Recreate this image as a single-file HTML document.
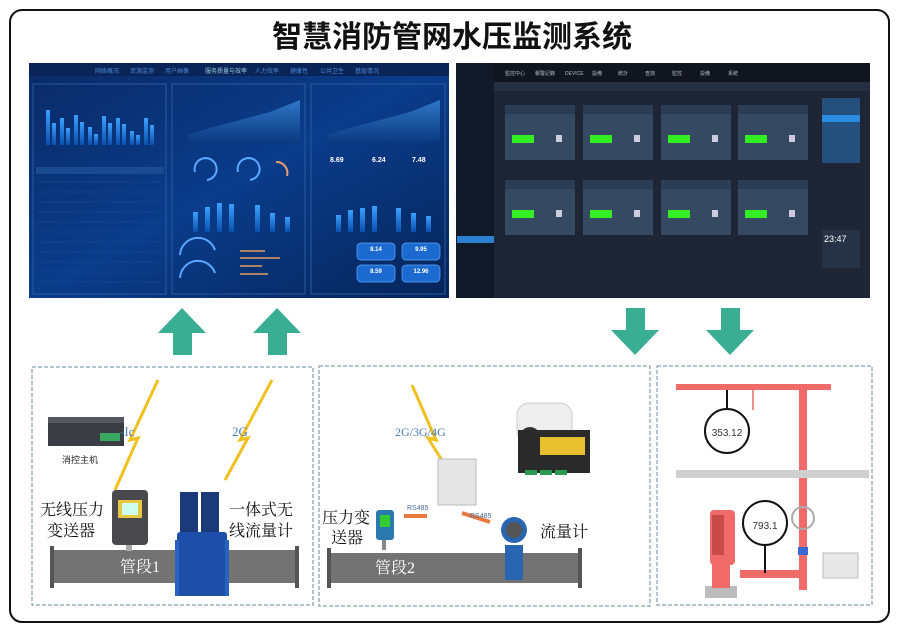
<!DOCTYPE html>
<html><head><meta charset="utf-8"><style>
html,body{margin:0;padding:0;background:#fff;}
svg{display:block;font-family:"Liberation Sans","Noto Sans CJK SC",sans-serif;}
</style></head><body>
<svg width="900" height="639" viewBox="0 0 900 639" xmlns="http://www.w3.org/2000/svg">
<defs>
<linearGradient id="bg1" x1="0" y1="0" x2="1" y2="1"><stop offset="0" stop-color="#0b2a66"/><stop offset="0.5" stop-color="#0a3c8a"/><stop offset="1" stop-color="#062458"/></linearGradient>
<linearGradient id="bar" x1="0" y1="0" x2="0" y2="1"><stop offset="0" stop-color="#3aa0ff"/><stop offset="1" stop-color="#0a4fae"/></linearGradient>
<linearGradient id="area" x1="0" y1="0" x2="0" y2="1"><stop offset="0" stop-color="#2f77c8"/><stop offset="1" stop-color="#0c3a80"/></linearGradient>
</defs>
<rect x="10" y="10" width="879" height="612" rx="12" fill="#fff" stroke="#111" stroke-width="2"/>
<text x="452" y="47" text-anchor="middle" font-size="30" font-weight="bold" fill="#111">智慧消防管网水压监测系统</text>

<!-- left dashboard -->
<rect x="29" y="63" width="420" height="235" fill="url(#bg1)"/>
<rect x="29" y="63" width="420" height="13" fill="#0a2458"/>
<g fill="#4a86d0" font-size="6"><text x="95" y="73">网络概况</text><text x="130" y="73">资源监测</text><text x="165" y="73">用户画像</text><text x="205" y="73" fill="#9cd">服务质量与效率</text><text x="255" y="73">人力效率</text><text x="290" y="73">健康性</text><text x="320" y="73">公共卫生</text><text x="355" y="73">基层情况</text></g>
<rect x="33" y="84" width="133" height="210" fill="none" stroke="#2a5aa0"/>
<rect x="172" y="84" width="133" height="210" fill="none" stroke="#2a5aa0"/>
<rect x="311" y="84" width="134" height="210" fill="none" stroke="#2a5aa0"/>
<g fill="url(#bar)">
<rect x="46" y="110" width="4" height="35"/><rect x="52" y="123" width="4" height="22"/>
<rect x="60" y="118" width="4" height="27"/><rect x="66" y="128" width="4" height="17"/>
<rect x="74" y="115" width="4" height="30"/><rect x="80" y="122" width="4" height="23"/>
<rect x="88" y="127" width="4" height="18"/><rect x="94" y="134" width="4" height="11"/>
<rect x="102" y="116" width="4" height="29"/><rect x="108" y="123" width="4" height="22"/>
<rect x="116" y="118" width="4" height="27"/><rect x="122" y="124" width="4" height="21"/>
<rect x="130" y="131" width="4" height="14"/><rect x="136" y="135" width="4" height="10"/>
<rect x="144" y="118" width="4" height="27"/><rect x="150" y="125" width="4" height="20"/>
</g>
<rect x="36" y="167" width="128" height="7" fill="#1a4a90"/>
<g stroke="#1f4d8e" stroke-width="0.6">
<line x1="36" y1="182" x2="164" y2="182"/><line x1="36" y1="192" x2="164" y2="192"/><line x1="36" y1="202" x2="164" y2="202"/><line x1="36" y1="212" x2="164" y2="212"/><line x1="36" y1="222" x2="164" y2="222"/><line x1="36" y1="232" x2="164" y2="232"/><line x1="36" y1="242" x2="164" y2="242"/><line x1="36" y1="252" x2="164" y2="252"/><line x1="36" y1="262" x2="164" y2="262"/><line x1="36" y1="272" x2="164" y2="272"/><line x1="36" y1="282" x2="164" y2="282"/></g>
<path d="M188 135 L210 128 L240 120 L270 112 L300 100 L300 142 L188 142Z" fill="url(#area)"/>
<path d="M327 135 L350 128 L380 120 L410 112 L440 100 L440 142 L327 142Z" fill="url(#area)"/>
<g fill="none" stroke="#5aa8ff" stroke-width="2">
<path d="M195 172 A11 11 0 1 1 207 180"/><path d="M238 172 A11 11 0 1 1 250 180"/><path d="M276 162 A11 11 0 0 1 287 176" stroke="#e8a070"/>
<path d="M180 255 A18 18 0 0 1 215 250"/><path d="M180 278 A18 18 0 0 1 215 273"/></g>
<g fill="url(#bar)"><rect x="193" y="212" width="5" height="20"/><rect x="205" y="207" width="5" height="25"/><rect x="217" y="203" width="5" height="29"/><rect x="229" y="204" width="5" height="28"/>
<rect x="255" y="205" width="5" height="27"/><rect x="270" y="213" width="5" height="19"/><rect x="285" y="217" width="5" height="15"/>
<rect x="336" y="215" width="5" height="17"/><rect x="348" y="210" width="5" height="22"/><rect x="360" y="208" width="5" height="24"/><rect x="372" y="206" width="5" height="26"/>
<rect x="396" y="208" width="5" height="24"/><rect x="411" y="213" width="5" height="19"/><rect x="426" y="216" width="5" height="16"/></g>
<g stroke="#e0a060" stroke-width="1.5"><line x1="240" y1="251" x2="265" y2="251"/><line x1="240" y1="258" x2="280" y2="258"/><line x1="240" y1="266" x2="262" y2="266"/><line x1="240" y1="274" x2="268" y2="274"/></g>
<g fill="#fff" font-size="7" font-weight="bold"><text x="330" y="162">8.69</text><text x="372" y="162">6.24</text><text x="412" y="162">7.48</text></g>
<g fill="#1c6ad0" stroke="#5aa8ff" stroke-width="0.7"><rect x="357" y="243" width="38" height="17" rx="4"/><rect x="402" y="243" width="38" height="17" rx="4"/><rect x="357" y="265" width="38" height="17" rx="4"/><rect x="402" y="265" width="38" height="17" rx="4"/></g>
<g fill="#fff" font-size="6" font-weight="bold" text-anchor="middle"><text x="376" y="251">8.14</text><text x="421" y="251">9.95</text><text x="376" y="273">8.59</text><text x="421" y="273">12.96</text></g>

<!-- right screenshot -->
<rect x="456" y="63" width="414" height="235" fill="#1e2636"/>
<rect x="456" y="63" width="38" height="235" fill="#111827"/>
<rect x="494" y="63" width="376" height="19" fill="#10151f"/>
<rect x="494" y="82" width="376" height="9" fill="#252f42"/>
<rect x="457" y="236" width="37" height="7" fill="#2a7fd0"/>
<g fill="#b0b8c8" font-size="5"><text x="505" y="75">監控中心</text><text x="535" y="75">報警記錄</text><text x="565" y="75">DEVICE</text><text x="592" y="75">設備</text><text x="618" y="75">統計</text><text x="645" y="75">查詢</text><text x="672" y="75">監控</text><text x="700" y="75">設備</text><text x="728" y="75">系統</text></g>
<g fill="#354a62">
<rect x="505" y="105" width="70" height="55"/><rect x="583" y="105" width="70" height="55"/><rect x="661" y="105" width="70" height="55"/><rect x="738" y="105" width="70" height="55"/>
<rect x="505" y="180" width="70" height="55"/><rect x="583" y="180" width="70" height="55"/><rect x="661" y="180" width="70" height="55"/><rect x="738" y="180" width="70" height="55"/></g>
<g fill="#2b3d54"><rect x="505" y="105" width="70" height="9"/><rect x="583" y="105" width="70" height="9"/><rect x="661" y="105" width="70" height="9"/><rect x="738" y="105" width="70" height="9"/>
<rect x="505" y="180" width="70" height="9"/><rect x="583" y="180" width="70" height="9"/><rect x="661" y="180" width="70" height="9"/><rect x="738" y="180" width="70" height="9"/></g>
<g fill="#33ee22"><rect x="512" y="135" width="22" height="8"/><rect x="590" y="135" width="22" height="8"/><rect x="668" y="135" width="22" height="8"/><rect x="745" y="135" width="22" height="8"/>
<rect x="512" y="210" width="22" height="8"/><rect x="590" y="210" width="22" height="8"/><rect x="668" y="210" width="22" height="8"/><rect x="745" y="210" width="22" height="8"/></g>
<g fill="#ccd" ><rect x="556" y="135" width="6" height="7"/><rect x="634" y="135" width="6" height="7"/><rect x="712" y="135" width="6" height="7"/><rect x="789" y="135" width="6" height="7"/>
<rect x="556" y="210" width="6" height="7"/><rect x="634" y="210" width="6" height="7"/><rect x="712" y="210" width="6" height="7"/><rect x="789" y="210" width="6" height="7"/></g>
<rect x="822" y="98" width="38" height="65" fill="#25507e"/><rect x="822" y="115" width="38" height="7" fill="#2a8ce0"/>
<rect x="822" y="230" width="38" height="38" fill="#263246"/>
<text x="824" y="242" fill="#fff" font-size="9">23:47</text>

<!-- arrows -->
<g fill="#3aae92">
<path d="M182 308 L206 333 L192 333 L192 355 L173 355 L173 333 L158 333Z"/>
<path d="M277 308 L301 333 L287 333 L287 355 L268 355 L268 333 L253 333Z"/>
<path d="M626 308 L645 308 L645 330 L659 330 L635 355 L611 330 L626 330Z"/>
<path d="M721 308 L740 308 L740 330 L754 330 L730 355 L706 330 L721 330Z"/>
</g>

<!-- dashed panels -->
<g fill="none" stroke="#6a8a9a" stroke-width="1" stroke-dasharray="4,2">
<rect x="32" y="367" width="281" height="238"/><rect x="319" y="366" width="331" height="240"/><rect x="657" y="366" width="215" height="239"/></g>

<!-- panel 1 -->
<rect x="48" y="417" width="76" height="29" fill="#3a3d44"/><rect x="48" y="417" width="76" height="6" fill="#55585e"/>
<rect x="100" y="433" width="20" height="8" fill="#3aa860"/>
<text x="62" y="463" font-size="9" fill="#222">消控主机</text>
<path d="M158 380 L130 440 L138 438 L115 490" fill="none" stroke="#f0c020" stroke-width="3"/>
<text x="120" y="436" font-size="13" fill="#4a7ab0" font-family="Liberation Serif,Noto Serif CJK SC,serif">-Ic</text>
<path d="M272 380 L240 440 L248 438 L225 480" fill="none" stroke="#f0c020" stroke-width="3"/>
<text x="232" y="436" font-size="13" fill="#4a7ab0" font-family="Liberation Serif,serif">2G</text>
<rect x="52" y="550" width="245" height="33" fill="#737373"/>
<rect x="50" y="546" width="4" height="42" fill="#555"/><rect x="295" y="546" width="4" height="42" fill="#555"/>
<text x="120" y="572" font-size="16" fill="#fff" font-family="Liberation Serif,Noto Serif CJK SC,serif">管段1</text>
<rect x="112" y="490" width="36" height="55" rx="4" fill="#4a4a4e"/><rect x="118" y="500" width="24" height="18" fill="#e8c840"/><rect x="122" y="503" width="16" height="12" fill="#cfe"/>
<rect x="126" y="545" width="6" height="6" fill="#aaa"/>
<rect x="180" y="492" width="18" height="40" fill="#1a3a7a"/><rect x="201" y="492" width="18" height="40" fill="#1a3a7a"/>
<rect x="177" y="532" width="50" height="64" rx="3" fill="#1d4fa8"/><rect x="175" y="540" width="4" height="56" fill="#2a62c0"/><rect x="225" y="540" width="4" height="56" fill="#2a62c0"/>
<g font-size="16" fill="#111" font-family="Liberation Serif,Noto Serif CJK SC,serif"><text x="40" y="515">无线压力</text><text x="47" y="536">变送器</text><text x="229" y="515">一体式无</text><text x="229" y="536">线流量计</text></g>

<!-- panel 2 -->
<path d="M412 385 L436 440 L428 438 L448 470" fill="none" stroke="#f0c020" stroke-width="3"/>
<text x="395" y="436" font-size="12" fill="#4a7ab0" font-family="Liberation Serif,serif">2G/3G/4G</text>
<rect x="438" y="459" width="38" height="46" fill="#e6e6e6" stroke="#bbb"/>
<rect x="517" y="403" width="55" height="40" rx="12" fill="#eee" stroke="#ccc"/><circle cx="530" cy="437" r="10" fill="#333"/>
<rect x="518" y="430" width="72" height="43" fill="#2a2a2a"/><rect x="540" y="437" width="45" height="18" fill="#e8c030"/>
<g fill="#2a9a50"><rect x="525" y="470" width="12" height="5"/><rect x="540" y="470" width="12" height="5"/><rect x="555" y="470" width="12" height="5"/></g>
<rect x="404" y="514" width="23" height="4" fill="#e87a40"/><path d="M462 513 L490 522" stroke="#e87a40" stroke-width="4"/>
<text x="407" y="510" font-size="7" fill="#4a6a9a">RS485</text><text x="470" y="518" font-size="7" fill="#4a6a9a">RS485</text>
<rect x="329" y="553" width="250" height="30" fill="#737373"/>
<rect x="327" y="548" width="4" height="40" fill="#555"/><rect x="578" y="548" width="4" height="40" fill="#555"/>
<text x="375" y="573" font-size="16" fill="#fff" font-family="Liberation Serif,Noto Serif CJK SC,serif">管段2</text>
<rect x="376" y="510" width="18" height="30" rx="3" fill="#2a7ab0"/><rect x="380" y="515" width="10" height="12" fill="#3c3"/><rect x="382" y="540" width="4" height="10" fill="#888"/>
<circle cx="514" cy="530" r="13" fill="#2a66b0"/><circle cx="514" cy="530" r="8" fill="#555"/>
<rect x="505" y="545" width="18" height="35" fill="#2a66b0"/>
<g font-size="16" fill="#111" font-family="Liberation Serif,Noto Serif CJK SC,serif"><text x="322" y="523">压力变</text><text x="331" y="543">送器</text><text x="540" y="537">流量计</text></g>

<!-- panel 3 -->
<rect x="676" y="384" width="155" height="6" fill="#f06a6a"/>
<rect x="799" y="384" width="8" height="206" fill="#f06a6a"/>
<rect x="740" y="570" width="66" height="8" fill="#f06a6a"/>
<rect x="676" y="470" width="193" height="8" fill="#cfcfcf"/>
<rect x="752" y="390" width="2" height="20" fill="#f09090"/>
<line x1="727" y1="390" x2="727" y2="408" stroke="#111" stroke-width="2"/>
<circle cx="727" cy="431" r="22" fill="#fff" stroke="#111" stroke-width="2"/>
<text x="727" y="436" text-anchor="middle" font-size="10" fill="#333">353.12</text>
<rect x="710" y="510" width="25" height="55" rx="4" fill="#f06a6a"/><rect x="712" y="515" width="12" height="40" fill="#c94a4a"/>
<rect x="705" y="586" width="32" height="12" fill="#bbb"/><rect x="712" y="560" width="18" height="28" fill="#f06a6a"/>
<line x1="765" y1="545" x2="765" y2="573" stroke="#111" stroke-width="2"/>
<circle cx="765" cy="523" r="22" fill="#fff" stroke="#111" stroke-width="2"/>
<text x="765" y="529" text-anchor="middle" font-size="10" fill="#333">793.1</text>
<circle cx="803" cy="518" r="11" fill="none" stroke="#aaa" stroke-width="2"/>
<rect x="798" y="547" width="10" height="8" fill="#3a6ad0"/>
<rect x="823" y="553" width="35" height="25" fill="#e8e8e8" stroke="#bbb"/>
</svg>
</body></html>
